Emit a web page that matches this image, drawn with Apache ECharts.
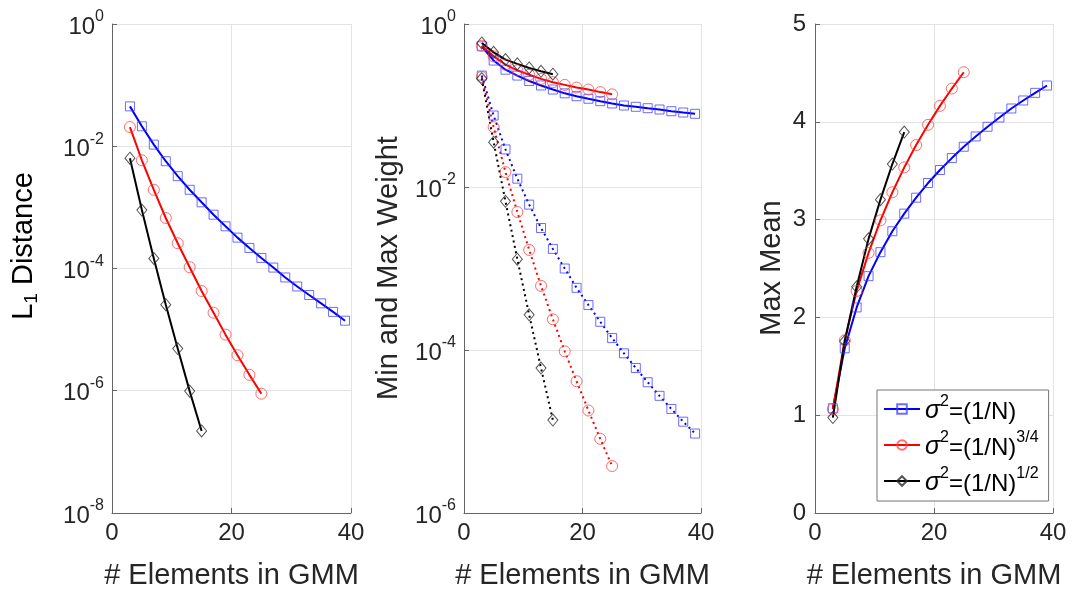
<!DOCTYPE html>
<html><head><meta charset="utf-8">
<script src="https://cdn.jsdelivr.net/npm/echarts@6/dist/echarts.min.js"></script>
<style>html,body{margin:0;padding:0;background:#fff}#c{width:1073px;height:595px}</style>
</head><body><div id="c"></div>
<script>
// ---- data ----
const nBlue = [3,5,7,9,11,13,15,17,19,21,23,25,27,29,31,33,35,37,39];
const nRed = [3,5,7,9,11,13,15,17,19,21,23,25];
const nBlack = [3,5,7,9,11,13,15];

// L1 distance
const l1Blue = [0.0449,0.0212,0.01064,0.00569,0.00324,0.00194,0.00121,7.59e-4,4.90e-4,3.20e-4,2.17e-4,1.49e-4,1.035e-4,7.13e-5,5.08e-5,3.68e-5,2.69e-5,1.95e-5,1.40e-5];
const l1Red = [0.0206,0.00590,0.00194,6.70e-4,2.59e-4,1.05e-4,4.28e-5,1.89e-5,8.28e-6,3.81e-6,1.82e-6,8.95e-7];
const l1Black = [0.00637,9.03e-4,1.46e-4,2.56e-5,4.90e-6,9.86e-7,2.20e-7];

// max weight (solid) and min weight (dotted)
const maxWBlue = [0.532,0.356,0.275,0.233,0.200,0.176,0.157,0.141,0.130,0.121,0.113,0.106,0.100,0.0964,0.0927,0.0893,0.0851,0.0820,0.0791];
const maxWRed = [0.542,0.401,0.318,0.270,0.238,0.212,0.193,0.179,0.166,0.157,0.146,0.137];
const maxWBlack = [0.585,0.449,0.366,0.324,0.289,0.263,0.242];
const minWBlue = [0.233,0.0753,0.0289,0.01265,6.08e-3,3.14e-3,1.74e-3,1.00e-3,5.79e-4,3.56e-4,2.22e-4,1.40e-4,9.10e-5,6.01e-5,4.02e-5,2.74e-5,1.89e-5,1.32e-5,9.44e-6];
const minWRed = [0.224,0.0542,0.01524,4.93e-3,1.69e-3,6.12e-4,2.38e-4,9.64e-5,4.14e-5,1.81e-5,8.13e-6,3.77e-6];
const minWBlack = [0.214,0.0355,6.67e-3,1.30e-3,2.70e-4,6.01e-5,1.38e-5];

// max mean
const meanBlue = [1.071,1.684,2.102,2.422,2.667,2.881,3.061,3.224,3.374,3.507,3.629,3.745,3.850,3.949,4.044,4.136,4.218,4.296,4.371];
const meanRed = [1.061,1.765,2.27,2.660,2.993,3.279,3.534,3.762,3.969,4.163,4.340,4.507];
const meanBlack = [0.976,1.758,2.313,2.803,3.204,3.568,3.895];

const seriesNames = ['σ^2=(1/N)', 'σ^2=(1/N)^{3/4}', 'σ^2=(1/N)^{1/2}'];
const legendRich = ['{g|σ}{p|2}{t|=(1/N)}', '{g|σ}{p|2}{t|=(1/N)}{p|3/4}', '{g|σ}{p|2}{t|=(1/N)}{p|1/2}'];
const xTitle = '# Elements in GMM';
const yTitles = ['L1 Distance', 'Min and Max Weight', 'Max Mean'];

// ---- styling ----
const FONT = '"Liberation Sans", Arial, Helvetica, sans-serif';
const TXT = '#262626';
const AX = '#666';
const GRIDC = '#e3e3e3';
const styles = [
  {line: '#0000ff', mk: 'rgba(60,60,255,0.75)', sym: 'rect', size: 9},
  {line: '#ff0000', mk: 'rgba(255,60,60,0.75)', sym: 'circle', size: 11},
  {line: '#000000', mk: 'rgba(40,40,40,0.8)', sym: 'diamond', size: [10, 12]}
];

const grids = [
  {left: 112, top: 24, width: 239, height: 491},
  {left: 464, top: 24, width: 237, height: 490},
  {left: 815, top: 24, width: 238, height: 490}
];

const expLabel = v => {
  const e = Math.round(Math.log10(v));
  return '{b|10}{s|' + e + '}';
};
const supRich = {
  b: {fontSize: 24, fontFamily: FONT, color: TXT, lineHeight: 30, verticalAlign: 'bottom'},
  s: {fontSize: 16, fontFamily: FONT, color: TXT, lineHeight: 16, verticalAlign: 'top'}
};

function xAxis(i) {
  return {
    type: 'value', gridIndex: i, min: 0, max: 40, interval: 20,
    axisLine: {show: true, lineStyle: {color: AX, width: 1}},
    axisTick: {show: true, inside: true, length: 5, lineStyle: {color: AX}},
    axisLabel: {fontSize: 24, fontFamily: FONT, color: TXT, margin: 8},
    splitLine: {show: true, lineStyle: {color: GRIDC, width: 1}},
    name: xTitle, nameLocation: 'middle', nameGap: 48,
    nameTextStyle: {fontSize: 29, fontFamily: FONT, color: TXT}
  };
}
function logAxis(i, min) {
  return {
    type: 'log', logBase: 10, gridIndex: i, min: min, max: 1, interval: 2,
    axisLine: {show: true, lineStyle: {color: AX, width: 1}},
    axisTick: {show: true, inside: true, length: 5, lineStyle: {color: AX}},
    axisLabel: {formatter: expLabel, rich: supRich, margin: 8},
    splitLine: {show: true, lineStyle: {color: GRIDC, width: 1}},
    minorTick: {show: false}, minorSplitLine: {show: false}
  };
}
const yAxes = [
  logAxis(0, 1e-8),
  logAxis(1, 1e-6),
  {
    type: 'value', gridIndex: 2, min: 0, max: 5, interval: 1,
    axisLine: {show: true, lineStyle: {color: AX, width: 1}},
    axisTick: {show: true, inside: true, length: 5, lineStyle: {color: AX}},
    axisLabel: {fontSize: 24, fontFamily: FONT, color: TXT, margin: 9},
    splitLine: {show: true, lineStyle: {color: GRIDC, width: 1}}
  }
];

function mk(k, xs, ys, gi, dotted) {
  const st = styles[k];
  return {
    type: 'line', name: seriesNames[k], xAxisIndex: gi, yAxisIndex: gi,
    data: xs.map((x, j) => [x, ys[j]]),
    symbol: st.sym, symbolSize: st.size, showSymbol: true, showAllSymbol: true,
    lineStyle: {color: st.line, width: 2, type: dotted ? [2, 3.5] : 'solid'},
    itemStyle: {color: 'rgba(0,0,0,0)', borderColor: st.mk, borderWidth: 1},
    emphasis: {disabled: true}, silent: true, animation: false
  };
}

const series = [
  mk(0, nBlue, l1Blue, 0), mk(1, nRed, l1Red, 0), mk(2, nBlack, l1Black, 0),
  mk(0, nBlue, maxWBlue, 1), mk(0, nBlue, minWBlue, 1, true),
  mk(1, nRed, maxWRed, 1), mk(1, nRed, minWRed, 1, true),
  mk(2, nBlack, maxWBlack, 1), mk(2, nBlack, minWBlack, 1, true),
  mk(0, nBlue, meanBlue, 2), mk(1, nRed, meanRed, 2), mk(2, nBlack, meanBlack, 2)
];

const titleStyle = {fontSize: 29, fontFamily: FONT, fill: TXT};
const graphic = [
  {type: 'text', x: 24, y: 246, rotation: Math.PI / 2,
   style: {text: '{a|L}{u|1}{a| Distance}', align: 'center', verticalAlign: 'middle',
     rich: {a: {fontSize: 29, fontFamily: FONT, color: TXT, lineHeight: 35, verticalAlign: 'middle'},
            u: {fontSize: 19, fontFamily: FONT, color: TXT, lineHeight: 19, verticalAlign: 'bottom'}}}},
  {type: 'text', x: 389, y: 268, rotation: Math.PI / 2,
   style: Object.assign({text: yTitles[1], align: 'center', verticalAlign: 'middle'}, titleStyle)},
  {type: 'text', x: 772, y: 268, rotation: Math.PI / 2,
   style: Object.assign({text: yTitles[2], align: 'center', verticalAlign: 'middle'}, titleStyle)}
];

const chart = echarts.init(document.getElementById('c'), null, {renderer: 'canvas'});
chart.setOption({
  animation: false,
  backgroundColor: '#fff',
  grid: grids,
  xAxis: [xAxis(0), xAxis(1), xAxis(2)],
  yAxis: yAxes,
  series: series,
  graphic: graphic,
  legend: {
    data: seriesNames, orient: 'vertical', left: 877, top: 390,
    backgroundColor: '#fff', borderColor: '#777', borderWidth: 1, borderRadius: 0,
    padding: [4, 10, 5, 6], itemWidth: 36, itemHeight: 12, itemGap: 6,
    selectedMode: false,
    formatter: name => legendRich[seriesNames.indexOf(name)],
    textStyle: {
      fontSize: 24, fontFamily: FONT, color: '#000',
      rich: {
        g: {fontSize: 25, fontFamily: FONT, fontStyle: 'italic', color: '#000', lineHeight: 30, verticalAlign: 'bottom'},
        t: {fontSize: 24, fontFamily: FONT, color: '#000', lineHeight: 30, verticalAlign: 'bottom'},
        p: {fontSize: 16, fontFamily: FONT, color: '#000', lineHeight: 16, verticalAlign: 'top'}
      }
    }
  }
});
</script>
</body></html>
